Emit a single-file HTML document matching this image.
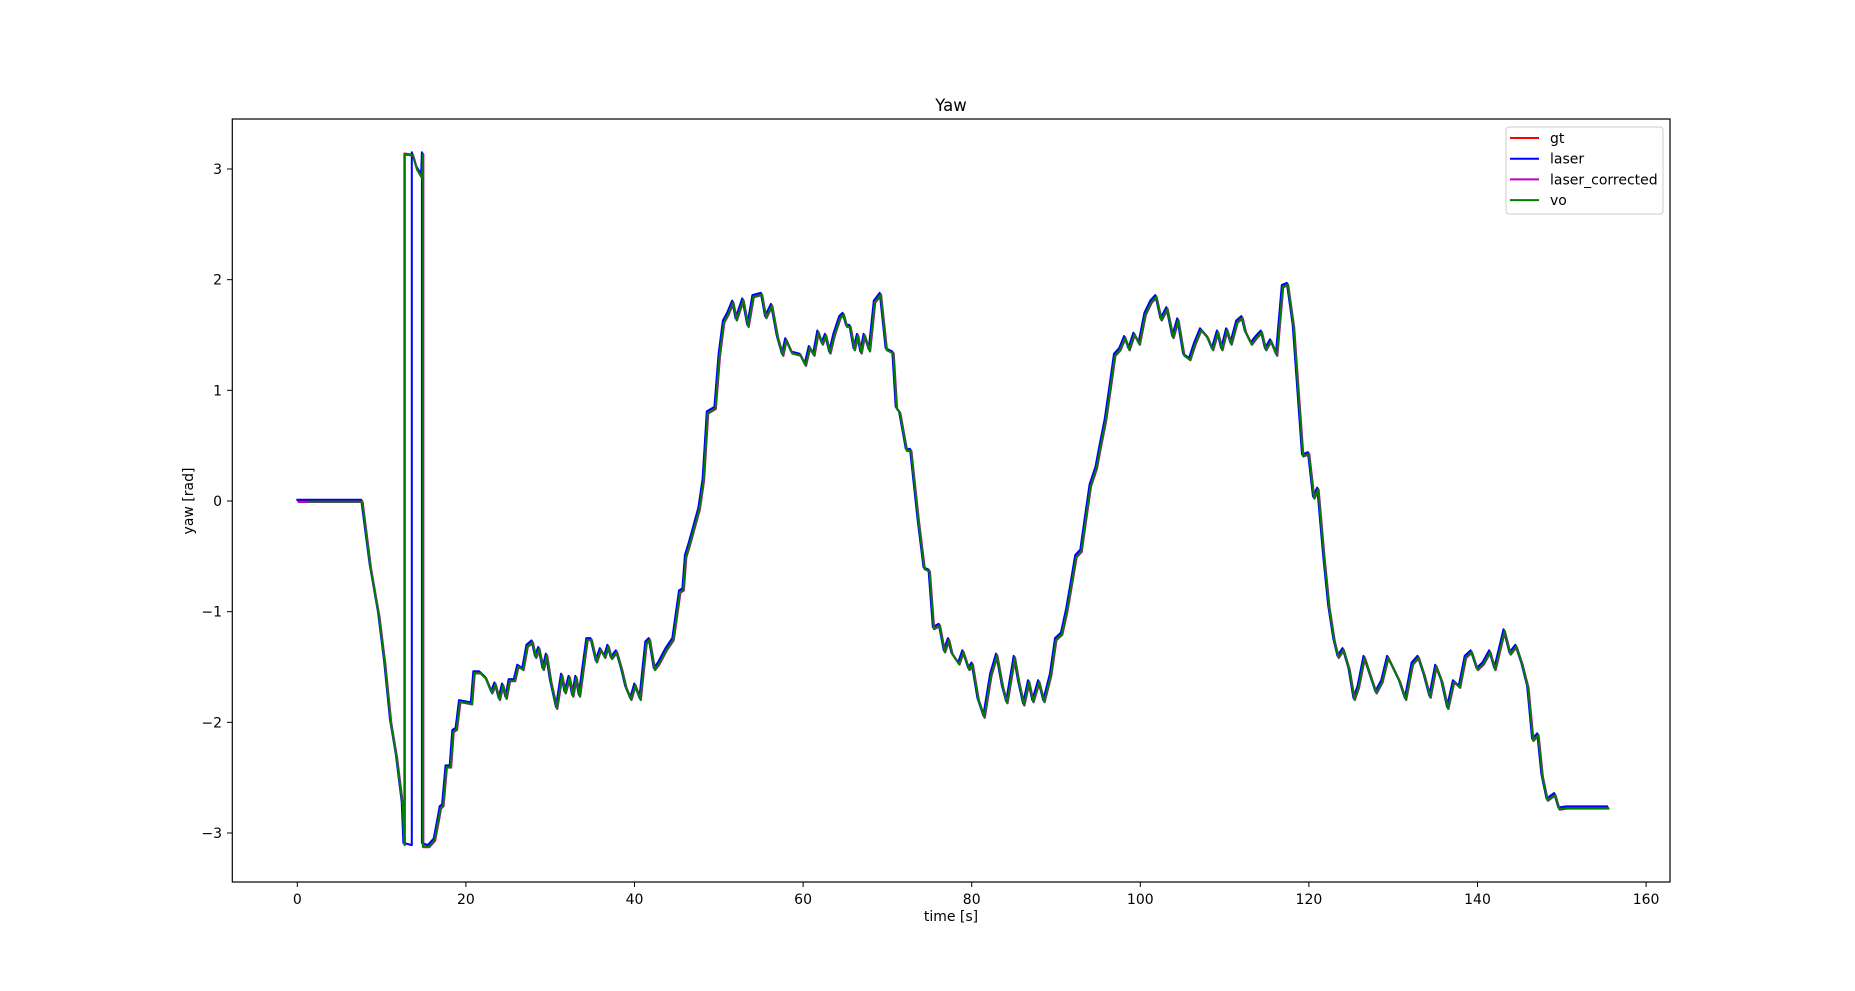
<!DOCTYPE html>
<html><head><meta charset="utf-8"><style>
html,body{margin:0;padding:0;background:#fff;}
svg{display:block;font-family:"DejaVu Sans","Liberation Sans",sans-serif;}
</style></head><body>
<svg id="chart" width="1855" height="991" viewBox="0 0 1855 991" xmlns="http://www.w3.org/2000/svg">
<rect width="1855" height="991" fill="#fff"/>
<text x="951" y="111" font-size="16.5" text-anchor="middle" fill="#000">Yaw</text>
<g id="plot"></g>
<rect x="232.3" y="119" width="1437.7" height="763" fill="none" stroke="#000" stroke-width="1.2"/>
<g id="xticks"></g><g id="yticks"></g>
<text x="951" y="934" font-size="14" text-anchor="middle" transform="translate(0,-13)">time [s]</text>
<text transform="translate(193,501) rotate(-90)" font-size="14" text-anchor="middle">yaw [rad]</text>
<g>
<rect x="1506" y="127" width="157" height="87" rx="3" fill="#fff" fill-opacity="0.8" stroke="#ccc" stroke-width="1"/>
<g id="legend-items"></g>
</g>
</svg>
<script>
const xTicks = [0,20,40,60,80,100,120,140,160];
const yTicks = [-3,-2,-1,0,1,2,3];
const seriesNames = ["gt","laser","laser_corrected","vo"];
const seriesColors = ["#ff0000","#0000ff","#bf00bf","#008000"];
const startT = [0,7.7,8.7,9.7,10.4,11.1,11.8,12.5,12.7,12.7,13.7,14.2,14.8,14.9,14.9];
const startV = [0,0,-0.6,-1.04,-1.47,-2.0,-2.32,-2.75,-3.1,3.14,3.13,3.0,2.92,3.14,-3.12];
const laserStartT = [0,7.7,8.7,9.7,10.4,11.1,11.8,12.5,12.7,13.7,13.7,14.2,14.8,14.9,14.9];
const laserStartV = [0.0,0.0,-0.58,-1.02,-1.45,-1.98,-2.3,-2.73,-3.1,-3.12,3.14,3.02,2.94,3.14,-3.1];
const restT = [15.6,16.3,16.8,17,17.3,17.7,18.2,18.5,18.9,19.3,20.7,21,21.7,22.4,23.1,23.5,24,24.4,24.8,25.2,25.8,26.2,26.8,27.3,27.9,28.3,28.7,29.2,29.6,30.1,30.8,31.4,31.8,32.3,32.7,33.1,33.5,34.4,34.9,35.5,36,36.5,36.9,37.3,37.9,38.5,39,39.6,40.1,40.7,41.4,41.8,42.4,42.9,43.8,44.6,44.9,45.4,45.8,46.1,46.5,46.9,47.3,47.7,48.2,48.7,49.6,50.1,50.6,51.1,51.7,52.1,52.9,53.5,54.1,55.1,55.6,56.3,57,57.6,58,58.7,59.7,60.3,60.8,61.3,61.8,62.3,62.7,63.2,63.7,64.4,64.8,65.2,65.6,66.1,66.5,66.9,67.3,67.9,68.5,69.2,69.9,70.7,71.1,71.5,72.3,72.8,73.7,74.4,75,75.5,76.2,76.8,77.3,77.7,78.5,79,79.7,80.1,80.8,81.5,82.3,83,83.7,84.2,85.1,85.6,86.2,86.8,87.3,88,88.6,89.4,90,90.7,91.3,91.8,92.4,93,93.5,94.1,94.8,95.2,95.9,96.5,97,97.6,98.2,98.7,99.3,99.9,100.6,101.3,101.9,102.5,103.2,103.9,104.5,105.2,105.9,106.5,107.2,108,108.6,109.2,109.7,110.3,110.8,111.5,112.1,112.5,113.2,113.8,114.4,114.9,115.5,116.2,116.9,117.5,118.2,118.7,119.3,120,120.6,121.1,121.8,122.4,123,123.5,124.1,124.8,125.4,125.9,126.6,127.3,128,128.7,129.4,130.1,130.8,131.5,132.3,133,133.7,134.4,135.1,135.8,136.5,137.2,137.9,138.6,139.3,140,140.7,141.5,142.1,143.2,143.9,144.6,145.3,146,146.6,147.2,147.7,148.3,149.2,149.7,150.6,155.6];
const restV = [-3.12,-3.06,-2.86,-2.77,-2.75,-2.4,-2.4,-2.08,-2.06,-1.81,-1.83,-1.55,-1.55,-1.6,-1.73,-1.65,-1.79,-1.66,-1.78,-1.62,-1.62,-1.49,-1.52,-1.31,-1.27,-1.41,-1.33,-1.52,-1.39,-1.63,-1.87,-1.57,-1.73,-1.59,-1.76,-1.59,-1.76,-1.25,-1.25,-1.45,-1.34,-1.41,-1.31,-1.42,-1.36,-1.52,-1.68,-1.79,-1.66,-1.79,-1.28,-1.25,-1.52,-1.47,-1.34,-1.25,-1.09,-0.82,-0.8,-0.5,-0.4,-0.29,-0.18,-0.07,0.19,0.8,0.84,1.32,1.62,1.69,1.8,1.64,1.82,1.58,1.85,1.87,1.66,1.77,1.48,1.32,1.46,1.34,1.32,1.23,1.39,1.32,1.53,1.42,1.5,1.34,1.5,1.66,1.69,1.58,1.58,1.37,1.5,1.34,1.5,1.36,1.8,1.87,1.37,1.34,0.84,0.8,0.46,0.46,-0.18,-0.61,-0.63,-1.15,-1.12,-1.36,-1.25,-1.38,-1.47,-1.36,-1.52,-1.47,-1.79,-1.95,-1.57,-1.39,-1.68,-1.82,-1.41,-1.63,-1.84,-1.63,-1.81,-1.63,-1.81,-1.57,-1.25,-1.2,-0.99,-0.77,-0.5,-0.45,-0.18,0.14,0.3,0.46,0.73,1.05,1.32,1.37,1.48,1.37,1.51,1.42,1.69,1.8,1.85,1.64,1.74,1.48,1.64,1.32,1.28,1.42,1.55,1.48,1.37,1.53,1.37,1.55,1.42,1.62,1.66,1.53,1.42,1.48,1.53,1.37,1.45,1.32,1.94,1.96,1.58,1.05,0.41,0.43,0.03,0.11,-0.5,-0.95,-1.25,-1.41,-1.34,-1.52,-1.79,-1.68,-1.41,-1.57,-1.73,-1.63,-1.41,-1.52,-1.63,-1.79,-1.47,-1.41,-1.57,-1.77,-1.49,-1.63,-1.87,-1.63,-1.68,-1.41,-1.36,-1.52,-1.47,-1.36,-1.52,-1.17,-1.38,-1.31,-1.47,-1.68,-2.16,-2.11,-2.48,-2.7,-2.65,-2.78,-2.77,-2.77];

const X0=297.3, PXS=8.43, Y0=501, PXR=110.67;
function xs(t){return X0+t*PXS;}
function ys(v){return Y0-v*PXR;}
const NS="http://www.w3.org/2000/svg";
function mk(tag,parent){const e=document.createElementNS(NS,tag);parent.appendChild(e);return e;}

const plot=document.getElementById('plot');
const seriesT=[startT.concat(restT),laserStartT.concat(restT),startT.concat(restT),[1.2].concat(startT.slice(1),restT)];
const seriesV=[startV.concat(restV),laserStartV.concat(restV),startV.concat(restV),[0].concat(startV.slice(1),restV)];
const dy=[0,-1.2,1,0.6];
const dx=[0,-1,0.5,0];
for(let s=0;s<4;s++){
  const T=seriesT[s],V=seriesV[s];
  let d='';
  for(let i=0;i<T.length;i++){d+=(i?'L':'M')+(xs(T[i])+dx[s]).toFixed(1)+','+(ys(V[i])+dy[s]).toFixed(1);}
  const p=mk('path',plot);
  
  
  p.setAttribute('d',d);p.setAttribute('fill','none');p.setAttribute('stroke',seriesColors[s]);
  p.setAttribute('stroke-width','2');p.setAttribute('stroke-linejoin','round');
}
const xg=document.getElementById('xticks');
xTicks.forEach(t=>{
  const l=mk('line',xg);
  
  
  l.setAttribute('x1',xs(t));l.setAttribute('x2',xs(t));l.setAttribute('y1',882);l.setAttribute('y2',887);l.setAttribute('stroke','#000');
  const tx=mk('text',xg);
  
  
  tx.setAttribute('x',xs(t));tx.setAttribute('y',904);tx.setAttribute('font-size','14');tx.setAttribute('text-anchor','middle');
  tx.textContent=t;
});
const yg=document.getElementById('yticks');
yTicks.forEach(v=>{
  const l=mk('line',yg);
  
  
  l.setAttribute('x1',227);l.setAttribute('x2',232.3);l.setAttribute('y1',ys(v));l.setAttribute('y2',ys(v));l.setAttribute('stroke','#000');
  const tx=mk('text',yg);
  
  
  tx.setAttribute('x',222);tx.setAttribute('y',ys(v)+5);tx.setAttribute('font-size','14');tx.setAttribute('text-anchor','end');
  tx.textContent=v<0?'\u2212'+(-v):String(v);
});
const lg=document.getElementById('legend-items');
seriesNames.forEach((n,i)=>{
  const y=138+i*20.7;
  const l=mk('line',lg);
  
  
  l.setAttribute('x1',1510);l.setAttribute('x2',1539);l.setAttribute('y1',y);l.setAttribute('y2',y);
  l.setAttribute('stroke',seriesColors[i]);l.setAttribute('stroke-width','2');
  const tx=mk('text',lg);
  
  
  tx.setAttribute('x',1550);tx.setAttribute('y',y+5);tx.setAttribute('font-size','14');
  tx.textContent=n;
});
</script>
</body></html>
